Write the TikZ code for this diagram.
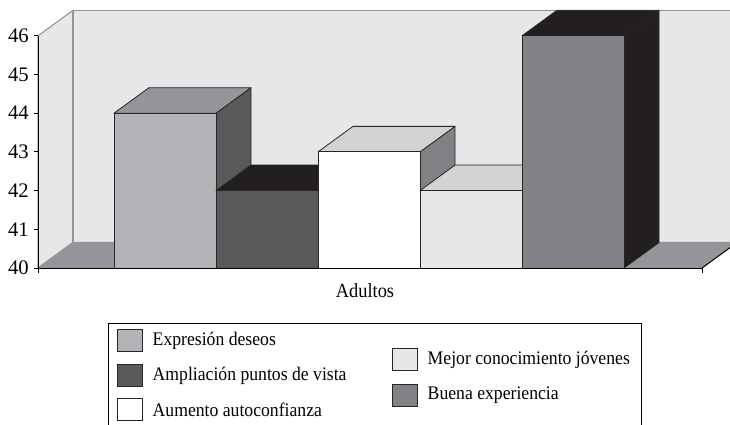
\documentclass[tikz,border=0pt]{standalone}
\usepackage{fontspec}
\setmainfont{Liberation Serif}
\newfontfamily\chartfont[FakeStretch=0.92]{Liberation Serif}
\usetikzlibrary{positioning}
\definecolor{wallGray}{HTML}{E6E7E8}
\definecolor{floorGray}{HTML}{939598}
\definecolor{barLight}{HTML}{B1B3B6}
\definecolor{barDark}{HTML}{58595B}
\definecolor{barMid}{HTML}{808285}
\definecolor{barPale}{HTML}{D1D3D4}
\definecolor{barBlack}{HTML}{231F20}
\tikzset{%
  wall/.style={fill=wallGray, draw=floorGray, line width=0.8pt, line join=round},
  floor/.style={fill=floorGray, draw=floorGray, line width=0.8pt},
  barface/.style={draw=black!85, line width=0.6pt, line join=round},
  axisline/.style={draw=black, line width=0.7pt},
  axislabel/.style={anchor=east, inner sep=1.5pt, font=\fontsize{15.5}{15.5}\selectfont},
  swatch/.style={rectangle, draw=black!85, line width=0.6pt, minimum width=18.5pt, minimum height=16.5pt, inner sep=0pt},
  legendtext/.style={anchor=west, inner sep=0pt, font=\chartfont\fontsize{14.4}{16}\selectfont},
}
\begin{document}
\begin{tikzpicture}[x=0.75pt, y=0.75pt]
    \useasboundingbox (-38,-156) rectangle (692,268);
    \clip (-38,-156) rectangle (692,268);

    %Walls and floor
    \path[wall] (0,0) -- (0,232.2) -- (35,257.7) -- (35,25.5) -- cycle;
    \path[wall] (35,25.5) rectangle (699,257.7);
    \path[floor] (0,0) -- (35,25.5) -- (699,25.5) -- (664,0) -- cycle;
    \draw[black, line width=0.7pt] (664,0) -- (699,25.5);

    %Bars
    \foreach \i/\val/\cfront/\ctop/\cside in {0/44/barLight/floorGray/barDark,
                                               1/42/barDark/barBlack/barBlack,
                                               2/43/white/barPale/barMid,
                                               3/42/wallGray/barPale/barMid,
                                               4/46/barMid/barBlack/barBlack}{
      \pgfmathsetmacro\xl{76+102*\i}
      \pgfmathsetmacro\xr{\xl+102}
      \pgfmathsetmacro\yt{(\val-40)*38.7}
      \filldraw[barface, fill=\cside] (\xr,0) -- (\xr,\yt) -- ++(35,25.5) -- ++(0,-\yt) -- cycle;
      \filldraw[barface, fill=\ctop] (\xl,\yt) -- ++(35,25.5) -- ++(102,0) -- (\xr,\yt) -- cycle;
      \filldraw[barface, fill=\cfront] (\xl,0) rectangle (\xr,\yt);
    }

    %Axes
    \draw[axisline] (0,-5) -- (0,232.2);
    \draw[axisline] (0,0) -- (664,0) -- (664,-5);
    \foreach \v in {40,...,46}{
      \draw[axisline] (-4,{(\v-40)*38.7}) -- (0,{(\v-40)*38.7});
      \node[axislabel] (tick\v) at (-7,{(\v-40)*38.7}) {\v};
    }
    \node[anchor=base, font=\chartfont\fontsize{15}{15}\selectfont] (cat) at (327,-30) {Adultos};

    %Legend
    \draw[line width=0.6pt] (70,-55) rectangle (603,-170);
    \node[swatch, fill=barLight, anchor=west] (sw1) at (79,-72.5) {};
    \node[swatch, fill=barDark, anchor=west] (sw2) at (79,-107.5) {};
    \node[swatch, fill=white, anchor=west] (sw3) at (79,-141.5) {};
    \node[swatch, fill=wallGray, anchor=west] (sw4) at (354,-91.5) {};
    \node[swatch, fill=barMid, anchor=west] (sw5) at (354,-127) {};
    \node[legendtext, right=7.5pt of sw1] (lg1) {Expresión deseos};
    \node[legendtext, right=7.5pt of sw2] (lg2) {Ampliación puntos de vista};
    \node[legendtext, right=7.5pt of sw3] (lg3) {Aumento autoconfianza};
    \node[legendtext, right=7.5pt of sw4] (lg4) {Mejor conocimiento jóvenes};
    \node[legendtext, right=7.5pt of sw5] (lg5) {Buena experiencia};
\end{tikzpicture}
\end{document}
